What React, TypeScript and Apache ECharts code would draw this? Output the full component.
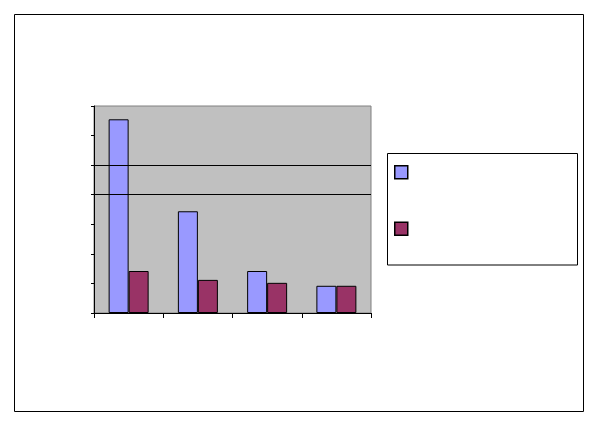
import React, { useEffect, useRef } from "react";
import * as echarts from "echarts";

const categories = ["1", "2", "3", "4"];
const series1Values = [6.55, 3.44, 1.42, 0.92];
const series2Values = [1.42, 1.12, 1.02, 0.92];
const seriesNames = ["Series1", "Series2"];
const gridLineValues = [4, 5];

export default function App() {
  const ref = useRef<HTMLDivElement>(null);
  useEffect(() => {
    document.body.style.margin = "0";
    const chart = echarts.init(ref.current!, null, { renderer: "svg" });
    chart.setOption({
      animation: false,
      backgroundColor: "#FFFFFF",
      grid: {
        left: 94,
        top: 106,
        width: 277,
        height: 207,
        show: true,
        backgroundColor: "#C0C0C0",
        borderColor: "#808080",
        borderWidth: 1,
      },
      legend: {
        show: true,
        orient: "vertical",
        left: 394,
        top: 165,
        padding: 0,
        itemWidth: 13,
        itemHeight: 13,
        itemGap: 42,
        icon: "rect",
        formatter: () => "",
        itemStyle: { borderColor: "#000000", borderWidth: 1.5 },
        data: seriesNames,
      },
      xAxis: {
        type: "category",
        data: categories,
        boundaryGap: true,
        axisLine: { show: true, lineStyle: { color: "#000000", width: 1 } },
        axisTick: { show: true, length: 5, lineStyle: { color: "#000000" } },
        axisLabel: { show: false },
        splitLine: { show: false },
      },
      yAxis: {
        type: "value",
        min: 0,
        max: 7,
        interval: 1,
        axisLine: { show: true, lineStyle: { color: "#000000", width: 1 } },
        axisTick: { show: true, length: 3, lineStyle: { color: "#000000" } },
        axisLabel: { show: false },
        splitLine: { show: false },
      },
      series: [
        {
          name: seriesNames[0],
          type: "bar",
          data: series1Values,
          barWidth: 20,
          barGap: "0%",
          itemStyle: { color: "#9999FF", borderColor: "#000000", borderWidth: 1 },
          markLine: {
            silent: true,
            symbol: "none",
            label: { show: false },
            lineStyle: { color: "#000000", width: 1, type: "solid" },
            data: gridLineValues.map((v) => ({ yAxis: v })),
          },
        },
        {
          name: seriesNames[1],
          type: "bar",
          data: series2Values,
          barWidth: 20,
          barGap: "0%",
          itemStyle: { color: "#993366", borderColor: "#000000", borderWidth: 1 },
        },
      ],
      graphic: [
        {
          type: "rect",
          shape: { x: 14.5, y: 14.5, width: 569, height: 397 },
          style: { fill: "none", stroke: "#000000", lineWidth: 1 },
          silent: true,
        },
        {
          type: "rect",
          shape: { x: 387.5, y: 153.5, width: 190, height: 111.5 },
          style: { fill: "none", stroke: "#000000", lineWidth: 1 },
          silent: true,
        },
      ],
    });
    return () => chart.dispose();
  }, []);
  return <div ref={ref} style={{ width: 600, height: 427 }} />;
}
